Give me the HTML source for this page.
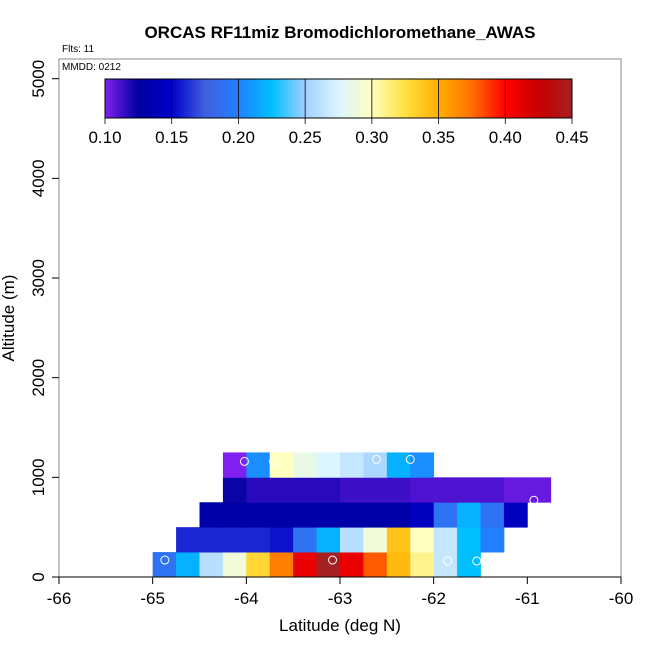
<!DOCTYPE html>
<html><head><meta charset="utf-8"><style>
body{margin:0;background:#fff}
svg text{font-family:"Liberation Sans",sans-serif}
</style></head><body>
<svg id="c" width="650" height="650" viewBox="0 0 650 650" xmlns="http://www.w3.org/2000/svg">
<text x="340" y="38" text-anchor="middle" font-size="17" font-weight="bold">ORCAS RF11miz Bromodichloromethane_AWAS</text>
<text x="62" y="52" font-size="10">Flts: 11</text>
<rect x="59" y="59" width="562" height="518" fill="none" stroke="#888" stroke-width="1"/>
<text x="62" y="70" font-size="10">MMDD: 0212</text>
<g id="cells"></g>
<g id="pts"></g>
<g id="axes"></g>
<g id="cbar"></g>
<text x="340" y="631" text-anchor="middle" font-size="17">Latitude (deg N)</text>
<text transform="translate(14,318) rotate(-90)" text-anchor="middle" font-size="17">Altitude (m)</text>
</svg>
<script>
const xTicks=[-66,-65,-64,-63,-62,-61,-60];
const yTicks=[0,1000,2000,3000,4000,5000];
const cbTicks=[0.10,0.15,0.20,0.25,0.30,0.35,0.40,0.45];
const rowAlt=[0,250,500,750,1000];
const rowStart=[-65,-64.75,-64.5,-64.25,-64.25];
const row0=[0.19,0.22,0.26,0.29,0.33,0.37,0.41,0.45,0.41,0.38,0.345,0.31,0.265,0.225];
const row1=[0.16,0.16,0.16,0.16,0.155,0.19,0.22,0.26,0.29,0.34,0.30,0.265,0.225,0.20];
const row2=[0.13,0.13,0.13,0.13,0.13,0.13,0.13,0.13,0.13,0.145,0.19,0.22,0.19,0.145];
const row3=[0.123,0.117,0.117,0.117,0.117,0.113,0.113,0.113,0.11,0.11,0.11,0.11,0.105,0.105];
const row4=[0.10,0.205,0.30,0.285,0.275,0.265,0.255,0.22,0.205];
const rows=[row0,row1,row2,row3,row4];
const ptLat=[-64.02,-63.71,-62.61,-62.25,-60.93,-64.87,-63.08,-61.85,-61.54];
const ptAlt=[1160,1160,1180,1180,770,170,170,160,160];
const cellW=0.25, cellH=250;
const X=v=>59+(v+66)/6*562;
const Y=v=>577-v/5000*(577-78.7);
const stops=[[0.10,[128,32,240]],[0.125,[0,0,160]],[0.15,[0,0,200]],[0.175,[64,96,224]],[0.20,[32,128,255]],[0.225,[0,191,255]],[0.25,[160,208,255]],[0.275,[220,245,255]],[0.30,[255,255,192]],[0.325,[255,224,64]],[0.35,[255,176,0]],[0.375,[255,112,0]],[0.40,[255,0,0]],[0.425,[200,0,0]],[0.45,[165,32,32]]];
function col(v){
  if(v<=stops[0][0])return 'rgb('+stops[0][1]+')';
  for(let i=1;i<stops.length;i++){if(v<=stops[i][0]){const a=stops[i-1],b=stops[i],t=(v-a[0])/(b[0]-a[0]);return 'rgb('+a[1].map((c,k)=>Math.round(c+(b[1][k]-c)*t)).join(',')+')';}}
  return 'rgb('+stops[stops.length-1][1]+')';
}
const NS='http://www.w3.org/2000/svg';
function mk(p,t,a){const e=document.createElementNS(NS,t);for(const k in a)e.setAttribute(k,a[k]);p.appendChild(e);return e;}
const cells=document.getElementById('cells');
rows.forEach((r,ri)=>r.forEach((v,ci)=>{
  const x0=X(rowStart[ri]+ci*cellW),x1=X(rowStart[ri]+(ci+1)*cellW);
  const y1=Y(rowAlt[ri]),y0=Y(rowAlt[ri]+cellH);
  const e=mk(cells,'rect',{x:x0,y:y0,width:x1-x0+0.4,height:y1-y0+0.4,fill:col(v)});
  
  
}));
const pts=document.getElementById('pts');
ptLat.forEach((la,i)=>{
  const e=mk(pts,'circle',{cx:X(la),cy:Y(ptAlt[i]),r:4,fill:'none',stroke:'#fff','stroke-width':1});
  
  
});
const ax=document.getElementById('axes');
mk(ax,'line',{x1:X(-66),x2:X(-60),y1:577,y2:577,stroke:'#000'});
xTicks.forEach(t=>{
  mk(ax,'line',{x1:X(t),x2:X(t),y1:577,y2:584,stroke:'#000'});
  const e=mk(ax,'text',{x:X(t),y:604,'text-anchor':'middle','font-size':17});e.textContent=t;
  
  
});
yTicks.forEach(t=>{
  mk(ax,'line',{x1:52,x2:59,y1:Y(t),y2:Y(t),stroke:'#000'});
  const e=mk(ax,'text',{transform:'translate(44,'+Y(t)+') rotate(-90)','text-anchor':'middle','font-size':17});e.textContent=t;
  
  
});
const cb=document.getElementById('cbar');
const C=v=>105+(v-0.10)/0.35*(572-105);
const defs=mk(cb,'defs',{});
const g=mk(defs,'linearGradient',{id:'gr',x1:0,x2:1,y1:0,y2:0});
stops.forEach(s=>mk(g,'stop',{offset:(s[0]-0.10)/0.35,'stop-color':col(s[0])}));
mk(cb,'rect',{x:105,y:79,width:467,height:39,fill:'url(#gr)',stroke:'#000','stroke-width':1});
cbTicks.forEach(t=>{
  mk(cb,'line',{x1:C(t),x2:C(t),y1:79,y2:124,stroke:'#000','stroke-width':0.8});
  const e=mk(cb,'text',{x:C(t),y:143,'text-anchor':'middle','font-size':17});e.textContent=t.toFixed(2);
  
  
});
</script>
</body></html>
